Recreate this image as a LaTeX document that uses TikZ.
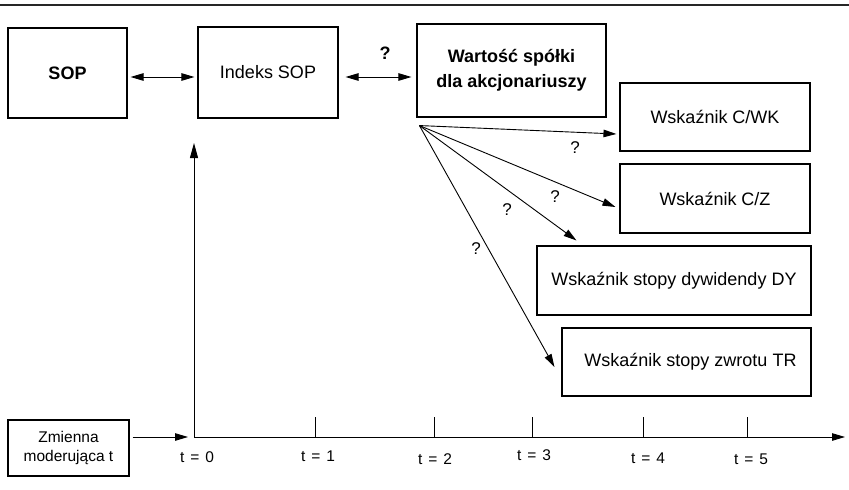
\documentclass[tikz,border=0pt]{standalone}
\usepackage{fontspec}
\setmainfont{Liberation Sans}
\usetikzlibrary{arrows.meta,calc}
\tikzset{
  box/.style={draw, line width=1.1pt, rectangle, inner sep=0pt, align=center, font=\fontsize{18}{25}\selectfont},
  tip/.style={-{Triangle[length=13pt,width=7.5pt]}},
  dtip/.style={{Triangle[length=13pt,width=7.5pt]}-{Triangle[length=13pt,width=7.5pt]}},
  conn/.style={line width=0.9pt},
  qm/.style={font=\fontsize{17}{20}\selectfont, inner sep=0pt},
  tlab/.style={font=\fontsize{15.5}{18}\selectfont, inner sep=0pt},
}
\newcommand{\tl}[1]{t\hspace{6pt}=\hspace{6pt}#1}
\begin{document}
\begin{tikzpicture}[x=1pt,y=-1pt]
\useasboundingbox (0,0) rectangle (849,490);
\draw[line width=1.4pt, black!85] (0,5) -- (849,5);
% boxes
\node[box, minimum width=119pt, minimum height=90pt] (SOP) at (67.5,73) {\bfseries SOP};
\node[box, minimum width=140pt, minimum height=91pt] (IND) at (268,72.5) {Indeks SOP};
\node[box, minimum width=189pt, minimum height=93pt] (WAR) at (511.5,70.5) {\bfseries Wartość spółki\\\bfseries dla akcjonariuszy};
\node[box, minimum width=190pt, minimum height=68pt] (CWK) at (715,117) {Wskaźnik C/WK};
\node[box, minimum width=190pt, minimum height=69pt] (CZ) at (715,198.5) {Wskaźnik C/Z};
\node[box, minimum width=274pt, minimum height=69pt] (DY) at (674,280.5) {Wskaźnik stopy dywidendy DY};
\node[box, minimum width=249pt, minimum height=68pt] (TR) at (686.5,362) {\hspace*{8pt}Wskaźnik stopy zwrotu TR};
\node[box, minimum width=121pt, minimum height=56pt, font=\fontsize{15.5}{19}\selectfont] (ZM) at (68.5,448) {Zmienna\\moderująca t};
% top arrows
\draw[conn, dtip] ([shift={(3,4)}]SOP.east) -- ([shift={(-3,4.5)}]IND.west);
\draw[conn, dtip] ([shift={(7,4.5)}]IND.east) -- ([shift={(-5,6.5)}]WAR.west);
\node[qm, font=\fontsize{18}{20}\selectfont\bfseries] (q0) at (385,53) {?};
% fan
\coordinate (fan) at ([shift={(3,8)}]WAR.south west);
\draw[conn, tip] (fan) -- ([shift={(-3,17)}]CWK.west);
\draw[conn, tip] (fan) -- ([shift={(-4,8.5)}]CZ.west);
\draw[conn, tip] (fan) -- ([shift={(40,-5)}]DY.north west);
\draw[conn, tip] (fan) -- ([shift={(-7,5)}]TR.west);
\node[qm] (q1) at (575,148) {?};
\node[qm] (q2) at (555,197) {?};
\node[qm] (q3) at (507,210) {?};
\node[qm] (q4) at (476,249) {?};
% axes
\coordinate (O) at (194,437);
\coordinate (ytop) at (194,143);
\coordinate (xend) at (845,437);
\draw[conn, -{Triangle[length=15pt,width=8pt]}] (O) -- (ytop);
\draw[conn, tip] (O) -- (xend);
\draw[conn, tip] ([shift={(3,-11)}]ZM.east) -- ([xshift=-6pt]O);
\foreach \x/\n in {315/1,434/2,532/3,643/4,747/5}{
  \coordinate (tk\n) at (\x,437);
  \draw[line width=0.8pt] (tk\n) -- ++(0,-20);
}
\node[tlab] (t0) at (197,457) {\tl{0}};
\node[tlab] (t1) at (318,456) {\tl{1}};
\node[tlab] (t2) at (435,459) {\tl{2}};
\node[tlab] (t3) at (534,455) {\tl{3}};
\node[tlab] (t4) at (648,458) {\tl{4}};
\node[tlab] (t5) at (751,459) {\tl{5}};
\end{tikzpicture}
\end{document}
